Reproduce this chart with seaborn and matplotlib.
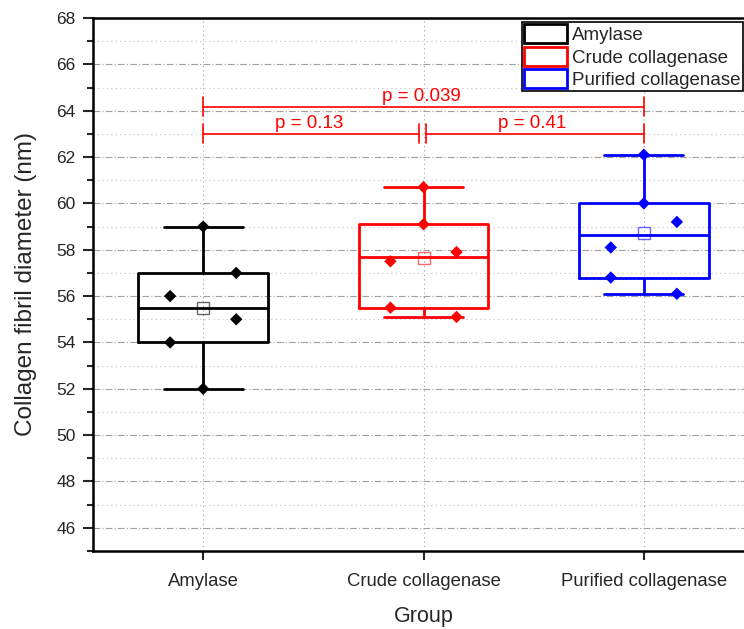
import numpy as np
import pandas as pd
import matplotlib
matplotlib.use("Agg")
import matplotlib.pyplot as plt
import seaborn as sns
from matplotlib.patches import Rectangle
from matplotlib.ticker import MultipleLocator

# ---------------- data ----------------
groups = ["Amylase", "Crude collagenase", "Purified collagenase"]
amylase = [59.0, 57.0, 56.0, 55.0, 54.0, 52.0]
crude = [60.7, 59.1, 57.9, 57.5, 55.5, 55.1]
purified = [62.1, 60.0, 59.2, 58.1, 56.8, 56.1]
p_labels = ["p = 0.039", "p = 0.13", "p = 0.41"]

# ---------------- style / layout ----------------
colors = ["#000000", "#ff0000", "#0000ff"]
# horizontal arrangement of the data points (Origin-like overlap spread)
point_spread = [[0, 1, -1, 1, -1, 0],
                [0, 0, 1, -1, -1, 1],
                [0, 0, 1, -1, -1, 1]]

sns.set_theme(style="ticks")
plt.rcParams["font.family"] = ["Liberation Sans", "DejaVu Sans"]

fig = plt.figure(figsize=(7.44, 6.29), dpi=100)
ax = fig.add_axes([93 / 744, 78 / 629, (754 - 93) / 744, (551 - 18) / 629])

values = [amylase, crude, purified]


def tukey_stats(v):
    s = np.sort(np.asarray(v, dtype=float))
    n = len(s)
    half = n // 2
    lower = s[:half] if n % 2 == 0 else s[:half + 1]
    upper = s[half:]
    return dict(med=float(np.median(s)), q1=float(np.median(lower)),
                q3=float(np.median(upper)), whislo=float(s.min()),
                whishi=float(s.max()), mean=float(s.mean()), fliers=[])


for i, (v, c) in enumerate(zip(values, colors)):
    st = tukey_stats(v)
    ax.bxp([st], positions=[i], widths=0.59, capwidths=0.36,
           showmeans=True, showfliers=False, manage_ticks=False,
           boxprops=dict(color=c, linewidth=2),
           medianprops=dict(color=c, linewidth=2),
           whiskerprops=dict(color=c, linewidth=2),
           capprops=dict(color=c, linewidth=2),
           meanprops=dict(marker="s", markerfacecolor="none",
                          markeredgecolor=c, markersize=8.5,
                          markeredgewidth=1, alpha=0.6),
           zorder=3)

rows = []
for i, (g, v) in enumerate(zip(groups, values)):
    for val, off in zip(v, point_spread[i]):
        rows.append({"group": g, "xpos": i + 0.15 * off, "value": val})
df = pd.DataFrame(rows)
sns.scatterplot(data=df, x="xpos", y="value", hue="group", palette=colors,
                marker="D", s=40, edgecolor="none", legend=False, ax=ax,
                zorder=4)

# significance brackets
red = "#ff0000"
bracket_y = [64.18, 63.0, 63.0]
ends = [(0, 2), (0, 0.98), (1.01, 2)]
tick_h = 0.41
for (x0, x1), y, lab in zip(ends, bracket_y, p_labels):
    ax.plot([x0, x1], [y, y], color=red, lw=1.2, zorder=5)
    for xx in (x0, x1):
        ax.plot([xx, xx], [y - tick_h, y + tick_h], color=red, lw=1.2, zorder=5)
    ax.text((x0 + x1) / 2 - 0.01, y + 0.08, lab, color=red, ha="center",
            va="bottom", fontsize=13.5)

# axes
ax.set_xlim(-0.5, 2.5)
ax.set_ylim(45, 68)
ax.set_xticks(range(len(groups)))
ax.set_xticklabels(groups, fontsize=13.3)
ax.yaxis.set_major_locator(MultipleLocator(2))
ax.yaxis.set_minor_locator(MultipleLocator(1))
ax.tick_params(axis="y", which="major", labelsize=12.5, length=7.5, width=1.5, pad=5)
ax.tick_params(axis="y", which="minor", length=4, width=1.5)
ax.tick_params(axis="x", which="major", length=6.5, width=1.5, pad=9)
ax.set_xlabel("Group", fontsize=15.5, labelpad=12)
ax.set_ylabel("Collagen fibril diameter (nm)", fontsize=17.5, labelpad=14)

for side in ["left", "bottom", "top", "right"]:
    ax.spines[side].set_visible(True)
    ax.spines[side].set_linewidth(1.8)
    ax.spines[side].set_color("black")

ax.grid(axis="y", which="major", linestyle=(0, (6, 2, 1, 2)), color="#a0a0a0", lw=0.8)
ax.grid(axis="y", which="minor", linestyle=(0, (1, 3)), color="#c0c0c0", lw=0.8)
ax.grid(axis="x", which="major", linestyle=(0, (1, 3)), color="#a0a0a0", lw=0.8)
ax.set_axisbelow(True)

handles = [Rectangle((0, 0), 1, 1, facecolor="none", edgecolor=c, lw=2)
           for c in colors]
leg = ax.legend(handles, groups, loc="upper left",
                bbox_to_anchor=(522 / 744, 1 - 22 / 629),
                bbox_transform=fig.transFigure, fontsize=13.5,
                frameon=True, fancybox=False, framealpha=1,
                borderpad=0.12, labelspacing=0.13, handlelength=2.3,
                handleheight=1.2, handletextpad=0.27, borderaxespad=0)
leg.get_frame().set_edgecolor("black")
leg.get_frame().set_linewidth(1.2)

fig.savefig("out.png", dpi=100)
